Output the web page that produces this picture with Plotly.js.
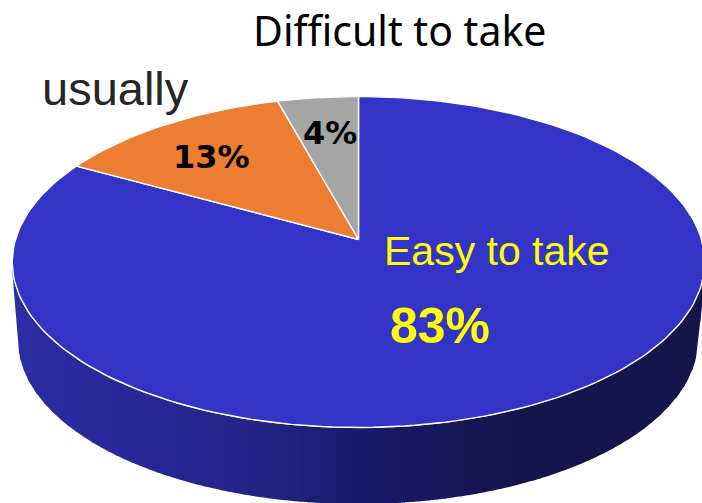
<!DOCTYPE html>
<html>
<head>
<meta charset="utf-8">
<script src="https://cdn.plot.ly/plotly-3.0.1.min.js"></script>
<style>html,body{margin:0;padding:0;background:#fff}#chart{width:702px;height:503px}</style>
</head>
<body>
<div id="chart"></div>
<script>
// Data
var categories = ["Easy to take", "usually", "Difficult to take"];
var sliceValues = [83, 12.7, 4.3];
var percentLabels = ["83%", "13%", "4%"];
var sliceColors = ["#3333c8", "#ed7d31", "#a5a5a5"];

// Wall shading stops: [pixel x, r, g, b]
var wallStops = [[12,44,44,164],[130,40,40,152],[260,35,35,134],[360,26,26,108],[470,22,22,84],[520,21,21,78],[704,21,21,76]];

// Perspective disc
var apexX = 358.5, apexY = 239.5, radX = 343, radY = 162.4, persp = 0.136;
var rimCx = 358, rimCy = 262.5, rimA = 346, rimB = 165.5;
var baseCx = 358, baseCy = 340, baseA = 340, baseB = 164;

function project(deg) {
  var t = deg * Math.PI / 180, u = Math.sin(t), v = Math.cos(t), w = 1 + persp * v;
  return [apexX + radX * u / w, apexY - radY * v / w];
}
function rimFront(x) {
  var d = Math.max(0, 1 - Math.pow((x - rimCx) / rimA, 2));
  return rimCy + rimB * Math.sqrt(d);
}
function baseFront(x) {
  if (x < baseCx - baseA) return 280 + (x - 13) * (340 - 280) / (baseCx - baseA - 13);
  if (x > baseCx + baseA) return 290 + (704 - x) * (340 - 290) / (704 - baseCx - baseA);
  return baseCy + baseB * Math.sqrt(Math.max(0, 1 - Math.pow((x - baseCx) / baseA, 2)));
}
function shade(x) {
  for (var i = 0; i < wallStops.length - 1; i++) {
    var a = wallStops[i], b = wallStops[i + 1];
    if (x <= b[0]) {
      var f = (x - a[0]) / (b[0] - a[0]);
      return "rgb(" + [1, 2, 3].map(function (k) { return Math.round(a[k] + (b[k] - a[k]) * f); }).join(",") + ")";
    }
  }
  return "rgb(21,21,76)";
}

var traces = [];
// side wall, as narrow shaded bands
for (var bx = 12; bx < 704; bx += 8) {
  var xs = [], upper = [], lower = [];
  for (var x = bx; x <= bx + 9; x += 1) { xs.push(x); upper.push(rimFront(x)); lower.push(baseFront(x)); }
  traces.push({
    type: "scatter", mode: "lines", fill: "toself", fillcolor: shade(bx + 4),
    x: xs.concat(xs.slice().reverse()), y: upper.concat(lower.slice().reverse()),
    line: { width: 0, color: shade(bx + 4) }, hoverinfo: "skip", showlegend: false
  });
}
// slices, clockwise from twelve o'clock
var total = sliceValues.reduce(function (a, b) { return a + b; }, 0), start = 0;
sliceValues.forEach(function (val, i) {
  var end = start + val / total * 360, px = [apexX], py = [apexY], steps = Math.ceil((end - start) / 1.5);
  for (var s = 0; s <= steps; s++) {
    var p = project(start + (end - start) * s / steps);
    px.push(p[0]); py.push(p[1]);
  }
  px.push(apexX); py.push(apexY);
  traces.push({
    type: "scatter", mode: "lines", fill: "toself", fillcolor: sliceColors[i], name: categories[i],
    x: px, y: py, line: { color: "#ffffff", width: 1.4 }, hoverinfo: "name", showlegend: false
  });
  start = end;
});

function label(text, x, y, size, color, family, bold) {
  return {
    text: bold ? "<b>" + text + "</b>" : text, x: x, y: y, xref: "x", yref: "y",
    showarrow: false, xanchor: "center", yanchor: "middle",
    font: { size: size, color: color, family: family }
  };
}
var layout = {
  width: 702, height: 503,
  margin: { l: 0, r: 0, t: 0, b: 0 },
  paper_bgcolor: "#ffffff", plot_bgcolor: "#ffffff",
  showlegend: false,
  xaxis: { range: [0, 702], visible: false, fixedrange: true },
  yaxis: { range: [503, 0], visible: false, fixedrange: true },
  annotations: [
    label(categories[2], 399, 30, 41, "#000000", "Noto Sans"),
    label(categories[1], 115, 88, 47, "#262626", "Liberation Sans"),
    label(categories[0], 497, 251, 41, "#ffff00", "Liberation Sans"),
    label(percentLabels[0], 440, 326, 50, "#ffff00", "Liberation Sans", true),
    label(percentLabels[1], 211, 157, 32, "#000000", "DejaVu Sans", true),
    label(percentLabels[2], 330, 133, 32, "#000000", "DejaVu Sans", true)
  ]
};
Plotly.newPlot("chart", traces, layout, { displayModeBar: false, staticPlot: true });
</script>
</body>
</html>
